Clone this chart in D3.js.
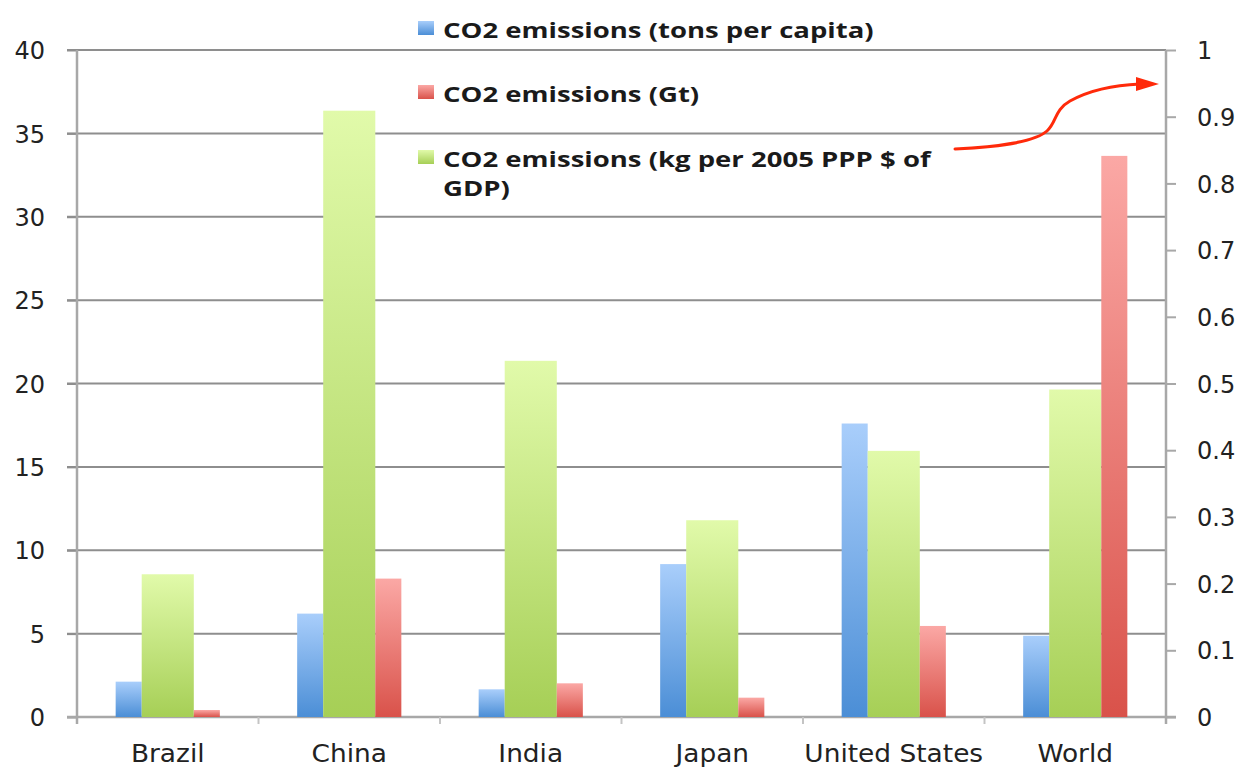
<!DOCTYPE html>
<html>
<head>
<meta charset="utf-8">
<script src="https://cdn.jsdelivr.net/npm/d3@7"></script>
<style>
  html, body { margin: 0; padding: 0; background: #fff; }
  svg { display: block; }
</style>
</head>
<body>
<div id="chart"></div>
<script>
// Data
var categories = ['Brazil', 'China', 'India', 'Japan', 'United States', 'World'];
var perCapita = [2.12, 6.2, 1.66, 9.17, 17.6, 4.87];          // tons per capita (left axis)
var gigatons = [0.42, 8.3, 2.02, 1.16, 5.46, 33.65];          // Gt (left axis)
var kgPerGdp = [0.214, 0.909, 0.534, 0.295, 0.399, 0.491];    // kg per 2005 PPP $ of GDP (right axis)
var leftTicks = [0, 5, 10, 15, 20, 25, 30, 35, 40];
var rightTicks = [0, 0.1, 0.2, 0.3, 0.4, 0.5, 0.6, 0.7, 0.8, 0.9, 1];
var legendLabels = [
    ['CO2 emissions (tons per capita)'],
    ['CO2 emissions (Gt)'],
    ['CO2 emissions (kg per 2005 PPP $ of', 'GDP)']
];

var W = 1241, H = 769;
var LEFT = 77, RIGHT = 1166, TOP = 50, BOTTOM = 717;
var GRID = '#8e8e8e', AXIS = '#a8a8a8';
var NUM_FONT = '"DejaVu Sans", Verdana, sans-serif';

var svg = d3.select('#chart').append('svg')
    .attr('width', W).attr('height', H);

// gradients (per bar, top light -> bottom dark)
var defs = svg.append('defs');
var grads = {
    blue: ['#a9cefb', '#4b8ed6'],
    red: ['#fba8a5', '#d9524a'],
    green: ['#e1faaa', '#a6cf56']
};
Object.keys(grads).forEach(function addGrad(k) {
    var g = defs.append('linearGradient').attr('id', 'g-' + k)
        .attr('x1', 0).attr('y1', 0).attr('x2', 0).attr('y2', 1);
    g.append('stop').attr('offset', '0%').attr('stop-color', grads[k][0]);
    g.append('stop').attr('offset', '100%').attr('stop-color', grads[k][1]);
});

var x = d3.scaleBand().domain(categories).range([LEFT, RIGHT]).padding(0);
var yL = d3.scaleLinear().domain([0, 40]).range([BOTTOM, TOP]);
var yR = d3.scaleLinear().domain([0, 1]).range([BOTTOM, TOP]);
var bw = x.bandwidth();

// stretch a text horizontally, the original rendering is wider than our fonts
function stretch(sel, factor) {
    sel.each(function s() {
        var len = this.getComputedTextLength();
        d3.select(this).attr('textLength', len * factor).attr('lengthAdjust', 'spacingAndGlyphs');
    });
}

// gridlines
svg.append('g').selectAll('line').data(leftTicks.filter(function f(d) { return d > 0; }))
    .enter().append('line')
    .attr('x1', LEFT - 10).attr('x2', RIGHT)
    .attr('y1', function y(d) { return yL(d); }).attr('y2', function y(d) { return yL(d); })
    .attr('stroke', GRID).attr('stroke-width', 2);

// left axis
var axL = svg.append('g').attr('transform', 'translate(' + LEFT + ',0)')
    .call(d3.axisLeft(yL).tickValues(leftTicks).tickSize(10).tickPadding(22).tickFormat(d3.format('d')));
axL.select('.domain').remove();
axL.selectAll('.tick line').attr('stroke', GRID).attr('stroke-width', 2);
axL.selectAll('text').attr('font-family', NUM_FONT).attr('font-size', 24).attr('fill', '#222').attr('dy', '0.36em');
svg.append('line').attr('x1', LEFT).attr('x2', LEFT).attr('y1', TOP).attr('y2', BOTTOM + 7)
    .attr('stroke', AXIS).attr('stroke-width', 2.5);

// right axis
var axR = svg.append('g').attr('transform', 'translate(' + RIGHT + ',0)')
    .call(d3.axisRight(yR).tickValues(rightTicks).tickSize(10).tickPadding(21)
        .tickFormat(function fmt(d) { return d === 0 || d === 1 ? String(d) : d3.format('.1f')(d); }));
axR.select('.domain').remove();
axR.selectAll('.tick line').attr('stroke', AXIS).attr('stroke-width', 2);
axR.selectAll('text').attr('font-family', NUM_FONT).attr('font-size', 24).attr('fill', '#222').attr('dy', '0.36em');
svg.append('line').attr('x1', RIGHT).attr('x2', RIGHT).attr('y1', TOP).attr('y2', BOTTOM + 7)
    .attr('stroke', AXIS).attr('stroke-width', 2.5);

// bottom axis
svg.append('line').attr('x1', LEFT - 10).attr('x2', RIGHT + 10).attr('y1', BOTTOM).attr('y2', BOTTOM)
    .attr('stroke', AXIS).attr('stroke-width', 2.5);
svg.append('g').selectAll('line').data(categories.slice(1))
    .enter().append('line')
    .attr('x1', function f(d) { return x(d); }).attr('x2', function f(d) { return x(d); })
    .attr('y1', BOTTOM).attr('y2', BOTTOM + 7)
    .attr('stroke', '#c4c4c4').attr('stroke-width', 2);
svg.append('g').selectAll('text').data(categories)
    .enter().append('text')
    .attr('x', function f(d) { return x(d) + bw / 2; })
    .attr('y', 762)
    .attr('text-anchor', 'middle')
    .attr('font-family', NUM_FONT).attr('font-size', 24).attr('fill', '#222')
    .text(function t(d) { return d; })
    .call(stretch, 1.1);

// bars: blue and red clustered on the left axis, green overlaid in the middle on the right axis
var half = 0.1435 * bw;
var series = [
    { key: 'blue', values: perCapita, scale: yL, x0: -2 * half, w: half },
    { key: 'green', values: kgPerGdp, scale: yR, x0: -half, w: 2 * half },
    { key: 'red', values: gigatons, scale: yL, x0: half, w: half }
];
series.forEach(function drawSeries(s) {
    svg.append('g').attr('class', 'bars-' + s.key).selectAll('rect')
        .data(s.values)
        .enter().append('rect')
        .attr('x', function f(d, i) { return x(categories[i]) + bw / 2 + s.x0; })
        .attr('width', s.w)
        .attr('y', function f(d) { return s.scale(d); })
        .attr('height', function f(d) { return BOTTOM - s.scale(d); })
        .attr('fill', 'url(#g-' + s.key + ')');
});

// legend
var legendKeys = ['blue', 'red', 'green'];
var legendY = [38, 102, 167];
var legend = svg.append('g').attr('font-family', '"Open Sans", "Liberation Sans", sans-serif')
    .attr('font-weight', 'bold').attr('font-size', 21).attr('fill', '#1a1a1a');
legendKeys.forEach(function item(k, i) {
    legend.append('rect').attr('x', 418).attr('y', legendY[i] - 17).attr('width', 16).attr('height', 14)
        .attr('fill', 'url(#g-' + k + ')');
    legendLabels[i].forEach(function line(t, j) {
        legend.append('text').attr('x', 443).attr('y', legendY[i] + j * 29).text(t).call(stretch, 1.31);
    });
});

// annotation arrow
svg.append('path')
    .attr('d', 'M955,149 C1000,147 1036,141 1047,131 C1057,122 1054,110 1070,101 C1090,90 1115,85 1140,84')
    .attr('fill', 'none').attr('stroke', '#ff2a0a').attr('stroke-width', 3).attr('stroke-linecap', 'round');
svg.append('path')
    .attr('d', 'M1136,77 L1159,84 L1136,91 Z')
    .attr('fill', '#ff2a0a');
</script>
</body>
</html>
